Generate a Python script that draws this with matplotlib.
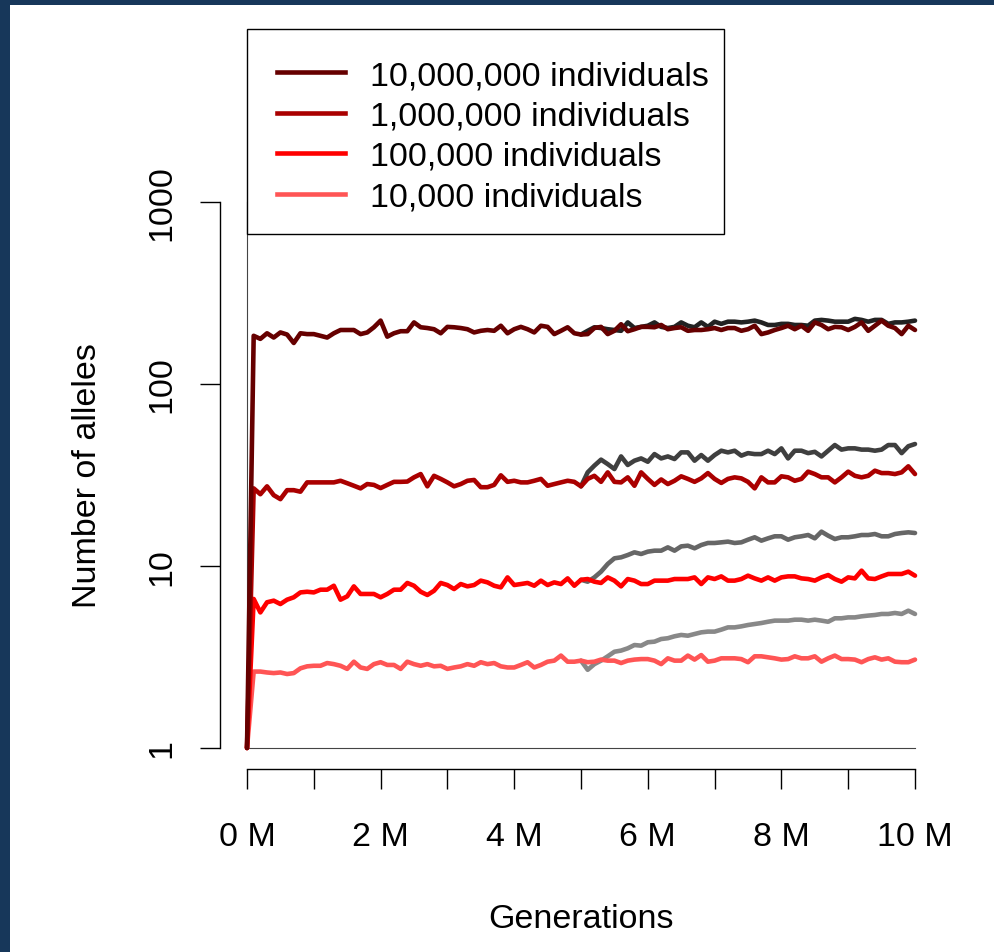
import numpy as np
import matplotlib
matplotlib.use("Agg")
import matplotlib.pyplot as plt
from matplotlib.patches import Rectangle
from matplotlib.lines import Line2D
from matplotlib.ticker import NullLocator

plt.rcParams['font.family'] = ['Liberation Sans', 'DejaVu Sans']

# generations sampled every 100,000 (0 .. 10M)
gens = np.arange(101) * 100_000
gens_late = gens[50:]

# population runs (value at generation 0 is 1 allele)
n10m = [1,
        184, 177, 190, 180, 192, 187, 168, 190, 188, 188,
        184, 180, 190, 198, 198, 198, 188, 192, 205, 223,
        182, 190, 195, 195, 218, 205, 203, 200, 190, 206,
        205, 203, 200, 192, 196, 198, 196, 209, 190, 200,
        206, 200, 192, 209, 206, 188, 196, 205, 190, 187,
        188, 203, 206, 188, 196, 213, 195, 200, 206, 206,
        205, 211, 200, 203, 205, 196, 198, 198, 200, 203,
        198, 203, 203, 196, 200, 209, 188, 192, 198, 203,
        209, 200, 209, 196, 218, 211, 200, 206, 205, 198,
        206, 218, 196, 209, 223, 209, 203, 188, 209, 198]
n1m = [1,
       26.7, 24.8, 27.4, 24.5, 23.3, 26.1, 26.1, 25.6, 28.8, 28.8,
       28.8, 28.8, 28.8, 29.4, 28.5, 27.6, 26.7, 28.2, 27.9, 26.8,
       27.9, 29.0, 29.0, 29.1, 30.7, 32.0, 27.4, 31.3, 30.1, 28.8,
       27.4, 28.2, 29.4, 29.7, 27.1, 27.1, 27.9, 31.5, 29.0, 29.4,
       28.8, 28.8, 29.4, 30.1, 27.6, 28.2, 28.8, 29.4, 29.0, 27.4,
       30.1, 31.3, 29.0, 32.7, 29.0, 28.8, 30.7, 27.6, 32.7, 30.1,
       27.9, 29.9, 28.2, 29.4, 31.1, 30.1, 29.0, 30.3, 32.4, 30.1,
       28.6, 30.1, 30.7, 30.3, 29.0, 26.7, 30.7, 28.8, 28.8, 31.1,
       30.7, 29.4, 30.1, 33.0, 32.0, 30.7, 30.7, 28.8, 30.7, 33.0,
       31.3, 30.7, 31.3, 33.4, 32.4, 32.4, 32.0, 32.7, 35.3, 32.0]
n100k = [1,
         6.59, 5.56, 6.32, 6.45, 6.18, 6.53, 6.73, 7.16, 7.22, 7.16,
         7.41, 7.41, 7.79, 6.53, 6.81, 7.73, 7.02, 7.02, 7.02, 6.73,
         7.02, 7.41, 7.41, 8.07, 7.79, 7.22, 6.93, 7.31, 8.07, 7.86,
         7.47, 7.96, 7.73, 7.86, 8.31, 8.13, 7.79, 7.63, 8.66, 7.86,
         7.96, 8.07, 7.79, 8.31, 7.86, 8.13, 7.96, 8.55, 7.79, 8.40,
         8.48, 8.20, 8.07, 8.66, 8.31, 7.73, 8.48, 8.31, 7.96, 7.96,
         8.31, 8.31, 8.31, 8.48, 8.48, 8.48, 8.66, 7.96, 8.66, 8.48,
         8.77, 8.31, 8.31, 8.48, 8.85, 8.55, 8.31, 8.66, 8.31, 8.66,
         8.77, 8.77, 8.55, 8.48, 8.31, 8.66, 8.92, 8.48, 8.20, 8.66,
         8.55, 9.43, 8.55, 8.48, 8.77, 9.04, 9.04, 9.04, 9.31, 8.85]
n10k = [1,
        2.63, 2.63, 2.60, 2.58, 2.60, 2.55, 2.58, 2.74, 2.81, 2.83,
        2.83, 2.93, 2.89, 2.83, 2.72, 2.98, 2.77, 2.72, 2.89, 2.96,
        2.86, 2.86, 2.72, 2.98, 2.89, 2.83, 2.89, 2.81, 2.83, 2.72,
        2.77, 2.81, 2.89, 2.83, 2.96, 2.89, 2.93, 2.81, 2.77, 2.77,
        2.86, 2.96, 2.77, 2.86, 2.98, 3.02, 3.22, 2.98, 2.98, 3.02,
        2.96, 2.98, 3.06, 3.02, 3.02, 2.93, 3.02, 3.06, 3.08, 3.08,
        3.02, 2.89, 3.11, 3.02, 3.02, 3.22, 3.06, 3.24, 2.98, 3.02,
        3.11, 3.11, 3.11, 3.08, 2.96, 3.19, 3.19, 3.15, 3.11, 3.06,
        3.08, 3.19, 3.11, 3.11, 3.19, 2.98, 3.11, 3.22, 3.08, 3.08,
        3.06, 2.96, 3.08, 3.15, 3.06, 3.11, 2.98, 2.96, 2.96, 3.06]

# runs branching off at 5M generations (grey)
g10m = [187, 196, 205, 203, 200, 198, 196, 218, 203, 206,
        209, 218, 206, 203, 206, 218, 209, 205, 218, 206,
        220, 214, 220, 220, 218, 220, 223, 218, 211, 211,
        214, 214, 211, 211, 209, 223, 225, 223, 220, 220,
        220, 228, 225, 220, 225, 225, 214, 218, 218, 220, 223]
g1m = [27.4, 32.7, 35.6, 38.4, 36.3, 34.1, 40.0, 35.9, 37.9, 39.0,
       37.4, 41.2, 39.0, 40.0, 38.7, 42.1, 42.1, 37.9, 40.7, 37.9,
       40.7, 43.0, 42.1, 43.0, 40.4, 41.7, 41.2, 41.2, 43.0, 41.2,
       44.3, 39.0, 43.0, 43.0, 41.7, 42.4, 40.0, 43.0, 46.2, 43.6,
       44.3, 44.3, 43.6, 43.6, 43.0, 43.6, 46.2, 46.2, 41.7, 45.5, 46.8]
g100k = [8.40, 8.20, 8.66, 9.31, 10.26, 11.02, 11.16, 11.49, 11.89, 11.64,
         11.99, 12.14, 12.14, 12.66, 12.14, 12.82, 12.93, 12.51, 13.04, 13.38,
         13.38, 13.49, 13.61, 13.38, 13.49, 13.95, 14.38, 13.78, 14.19, 14.56,
         14.56, 13.95, 14.38, 14.56, 14.80, 14.19, 15.44, 14.68, 14.07, 14.38,
         14.38, 14.56, 14.80, 14.80, 14.99, 14.56, 14.56, 14.99, 15.18, 15.31, 15.18]
g10k = [3.02, 2.69, 2.89, 3.02, 3.19, 3.38, 3.43, 3.53, 3.68, 3.65,
        3.81, 3.84, 3.97, 4.01, 4.11, 4.18, 4.14, 4.23, 4.32, 4.36,
        4.36, 4.47, 4.60, 4.60, 4.66, 4.74, 4.80, 4.86, 4.94, 5.01,
        5.01, 5.01, 5.07, 5.07, 5.01, 5.07, 5.01, 4.94, 5.16, 5.16,
        5.22, 5.22, 5.29, 5.34, 5.38, 5.45, 5.45, 5.52, 5.45, 5.68, 5.45]

labels = ["10,000,000 individuals", "1,000,000 individuals",
          "100,000 individuals", "10,000 individuals"]
red_cols = ["#660000", "#AA0000", "#FF0000", "#FF5555"]
grey_cols = ["#222222", "#3F3F3F", "#666666", "#888888"]

# L-shaped guide at x=0 / y=1
guide_x = [0, 0, 10_000_000]
guide_y = [1000, 1, 1]

W, H = 994, 953
LW = 3.3
fig = plt.figure(figsize=(W / 100, H / 100), dpi=100)
fig.patch.set_facecolor("#17375a")
fig.add_artist(Rectangle((10 / W, 0), 1, 1 - 6 / H, transform=fig.transFigure,
                         facecolor="white", edgecolor="none", zorder=0))

# data region: x 247..915 px, y 203..749 px
ax = fig.add_axes([247 / W, 1 - 749 / H, (915 - 247) / W, (749 - 203) / H])
ax.patch.set_alpha(0)
ax.set_yscale("log")
ax.set_xlim(0, 1e7)
ax.set_ylim(1, 1000)

ax.plot(guide_x, guide_y, color="#444444", lw=0.8, clip_on=False)

reds = [n10m, n1m, n100k, n10k]
greys = [g10m, g1m, g100k, g10k]
for vals, col in zip(greys, grey_cols):
    ax.plot(gens_late, vals, color=col, lw=LW, solid_joinstyle="round",
            solid_capstyle="round", clip_on=False)
for vals, col in reversed(list(zip(reds, red_cols))):
    ax.plot(gens, vals, color=col, lw=LW, solid_joinstyle="round",
            solid_capstyle="round", clip_on=False)

for s in ["top", "right"]:
    ax.spines[s].set_visible(False)
ax.spines["left"].set_position(("outward", 27 * 0.72))
ax.spines["bottom"].set_position(("outward", 21 * 0.72))
ax.spines["left"].set_bounds(1, 1000)
ax.spines["bottom"].set_bounds(0, 1e7)
for s in ["left", "bottom"]:
    ax.spines[s].set_linewidth(1)

ax.set_yticks([1, 10, 100, 1000])
ax.set_yticklabels(["1", "10", "100", "1000"])
ax.yaxis.set_minor_locator(NullLocator())
xt = np.arange(0, 11) * 1_000_000
ax.set_xticks(xt)
ax.set_xticklabels(["%d M" % (v // 1_000_000) if (v // 1_000_000) % 2 == 0 else ""
                    for v in xt])
ax.tick_params(axis="both", direction="out", length=14.4, width=1,
               labelsize=24.5, colors="black")
ax.tick_params(axis="y", pad=16)
ax.tick_params(axis="x", pad=23)
for lbl in ax.get_yticklabels():
    lbl.set_rotation(90)
    lbl.set_va("center")

fig.text(88 / W, 1 - 476 / H, "Number of alleles", rotation=90,
         ha="center", va="center", fontsize=24.5)
fig.text(581 / W, 1 - 928 / H, "Generations", ha="center", va="baseline",
         fontsize=24.5)

# legend box (top left)
fig.add_artist(Rectangle((247 / W, 1 - 235 / H), (724 - 247) / W, (235 - 30) / H,
                         transform=fig.transFigure, facecolor="white",
                         edgecolor="black", lw=1, zorder=5))
for k, (lab, col) in enumerate(zip(labels, red_cols)):
    yy = 73 + 40.5 * k
    fig.add_artist(Line2D([277 / W, 345 / W], [1 - yy / H, 1 - yy / H],
                          transform=fig.transFigure, color=col, lw=LW, zorder=6))
    fig.text(370 / W, 1 - (yy + 12) / H, lab, ha="left", va="baseline",
             fontsize=24.5, zorder=6)

fig.savefig("out.png", dpi=100)
